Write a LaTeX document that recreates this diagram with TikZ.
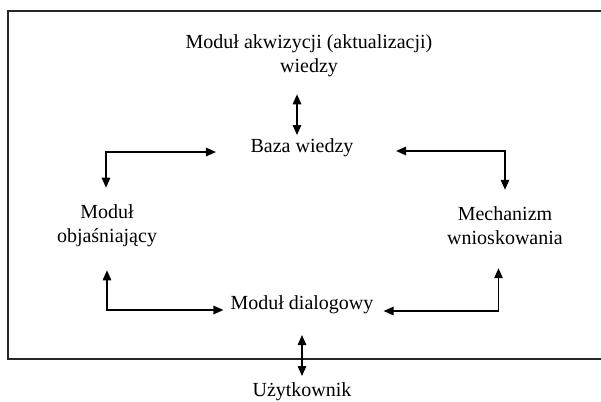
\documentclass[tikz,border=0pt]{standalone}
\usepackage{fontspec}
\setmainfont{Liberation Serif}
\usetikzlibrary{arrows.meta}

\begin{document}
\begin{tikzpicture}[x=1pt, y=-1pt,
    every node/.style={font=\fontsize{20}{24}\selectfont, inner sep=0pt, align=center},
    biarrow/.style={{Triangle[length=10pt,width=8.5pt]}-{Triangle[length=10pt,width=8.5pt]}, line width=1.4pt}]
    \useasboundingbox (0,0) rectangle (601,401);
    \draw[line width=1.6pt, black!85] (8,11) rectangle (604,359);
    % modules
    \node (akw) at (309,55.5) {Moduł akwizycji (aktualizacji)\\wiedzy};
    \node (baza) at (302,148) {Baza wiedzy};
    \node (objas) at (107,226) {Moduł\\objaśniający};
    \node (mech) at (505,226) {Mechanizm\\wnioskowania};
    \node (dial) at (302,305) {Moduł dialogowy};
    \node (user) at (302,392) {Użytkownik};
    % links
    \draw[biarrow] ([xshift=-5pt,yshift=-17.5pt]baza.north |- akw.south) -- ([xshift=-5pt,yshift=3.7pt]baza.north);
    \draw[biarrow] ([xshift=-1pt,yshift=17pt]objas.north) |- ([xshift=-34.5pt,yshift=-4pt]baza.west);
    \draw[biarrow] ([yshift=17pt]mech.north) |- ([xshift=42.5pt,yshift=-3pt]baza.east);
    \draw[biarrow] ([yshift=-23pt]objas.south) |- ([xshift=-7pt,yshift=-5pt]dial.west);
    \draw[biarrow] ([xshift=-6.5pt,yshift=-23pt]mech.south) |- ([xshift=10pt,yshift=-6pt]dial.east);
    \draw[biarrow] ([yshift=-20.7pt]dial.south) -- ([yshift=6.7pt]user.north);
\end{tikzpicture}
\end{document}
